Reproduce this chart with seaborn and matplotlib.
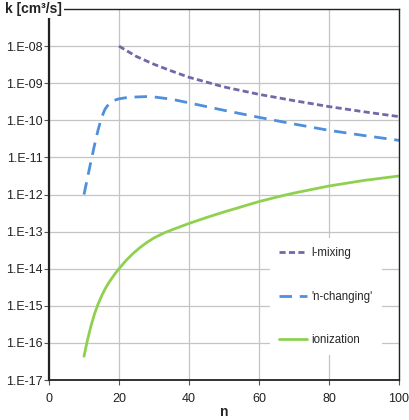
import numpy as np
import pandas as pd
import matplotlib
matplotlib.use("Agg")
import matplotlib.pyplot as plt
import seaborn as sns
from matplotlib.ticker import FixedLocator, NullLocator

# values (log10 of k in cm^3/s)
n_lmix = [20, 25, 30, 35, 40, 50, 60, 70, 80, 90, 100]
log_lmix = [-8.0, -8.28, -8.49, -8.67, -8.84, -9.1, -9.3, -9.47, -9.63, -9.77, -9.9]

n_nchg = [10, 11, 12, 13, 14, 15, 16, 17, 18, 19, 20, 22, 25, 28, 30, 35, 40, 50, 60, 70, 80, 90, 100]
log_nchg = [-12.0, -11.55, -11.1, -10.67, -10.27, -9.93, -9.7, -9.57, -9.49, -9.45, -9.42, -9.39,
            -9.37, -9.36, -9.37, -9.43, -9.53, -9.73, -9.92, -10.1, -10.27, -10.41, -10.54]

n_ion = [10, 11, 12, 13, 14, 15, 16, 17, 18, 19, 20, 22, 24, 26, 28, 30, 33, 36, 40, 45, 50,
         55, 60, 65, 70, 80, 90, 100]
log_ion = [-16.36, -15.92, -15.54, -15.22, -14.96, -14.74, -14.55, -14.39, -14.25, -14.12, -14.0,
           -13.78, -13.59, -13.43, -13.29, -13.17, -13.03, -12.92, -12.78, -12.62, -12.47,
           -12.33, -12.19, -12.07, -11.96, -11.77, -11.62, -11.5]

x_ticks = [0, 20, 40, 60, 80, 100]
y_exps = list(range(-17, -7))

sns.set_style("white")
plt.rcParams["font.family"] = ["Liberation Sans", "DejaVu Sans"]

fig = plt.figure(figsize=(4.1, 4.2), dpi=100)
ax = fig.add_axes([0.1195, 0.0952, 0.8537, 0.8833])

sns.lineplot(x=n_lmix, y=10.0 ** np.array(log_lmix), ax=ax, color="#7466a8",
             linewidth=2, linestyle=(0, (2.2, 1.2)), label="l-mixing")
sns.lineplot(x=n_nchg, y=10.0 ** np.array(log_nchg), ax=ax, color="#4f8fdc",
             linewidth=2, linestyle=(0, (4.5, 2.8)), label="'n-changing'")
sns.lineplot(x=n_ion, y=10.0 ** np.array(log_ion), ax=ax, color="#8fd14f",
             linewidth=2, label="ionization")

ax.set_yscale("log")
ax.set_xlim(0, 100)
ax.set_ylim(1e-17, 1e-7)
ax.xaxis.set_major_locator(FixedLocator(x_ticks))
ax.yaxis.set_major_locator(FixedLocator([10.0 ** e for e in y_exps]))
ax.yaxis.set_minor_locator(NullLocator())
ax.set_yticklabels(["1.E-%02d" % (-e) for e in y_exps])
ax.set_xticklabels([str(v) for v in x_ticks])

ax.grid(True, color="#c4c4c4", linewidth=0.9)
ax.set_axisbelow(True)
for s in ax.spines.values():
    s.set_color("#222222")
    s.set_linewidth(1.0)
ax.spines["left"].set_linewidth(1.6)
ax.spines["bottom"].set_linewidth(1.3)
ax.tick_params(axis="both", which="major", direction="out", length=3.5, width=0.8,
               color="#555555", labelsize=9, pad=1, labelcolor="#222222")
ax.tick_params(axis="y", left=True)
ax.tick_params(axis="x", bottom=True, pad=6)

ax.set_xlabel("n", fontsize=10, fontweight="bold", labelpad=0)
ax.set_ylabel("")
fig.text(0.012, 0.978, "k [cm³/s]", fontsize=10, fontweight="bold",
         ha="left", va="center", color="#222222",
         bbox=dict(facecolor="white", edgecolor="none", pad=1.5))

leg = ax.legend(loc="center left", bbox_to_anchor=(0.615, 0.225), fontsize=8.3,
                frameon=True, facecolor="white", edgecolor="none", framealpha=1,
                labelspacing=2.7, handlelength=2.4, handletextpad=0.4,
                borderpad=0.8, fancybox=False)

fig.savefig("out.png", dpi=100)
